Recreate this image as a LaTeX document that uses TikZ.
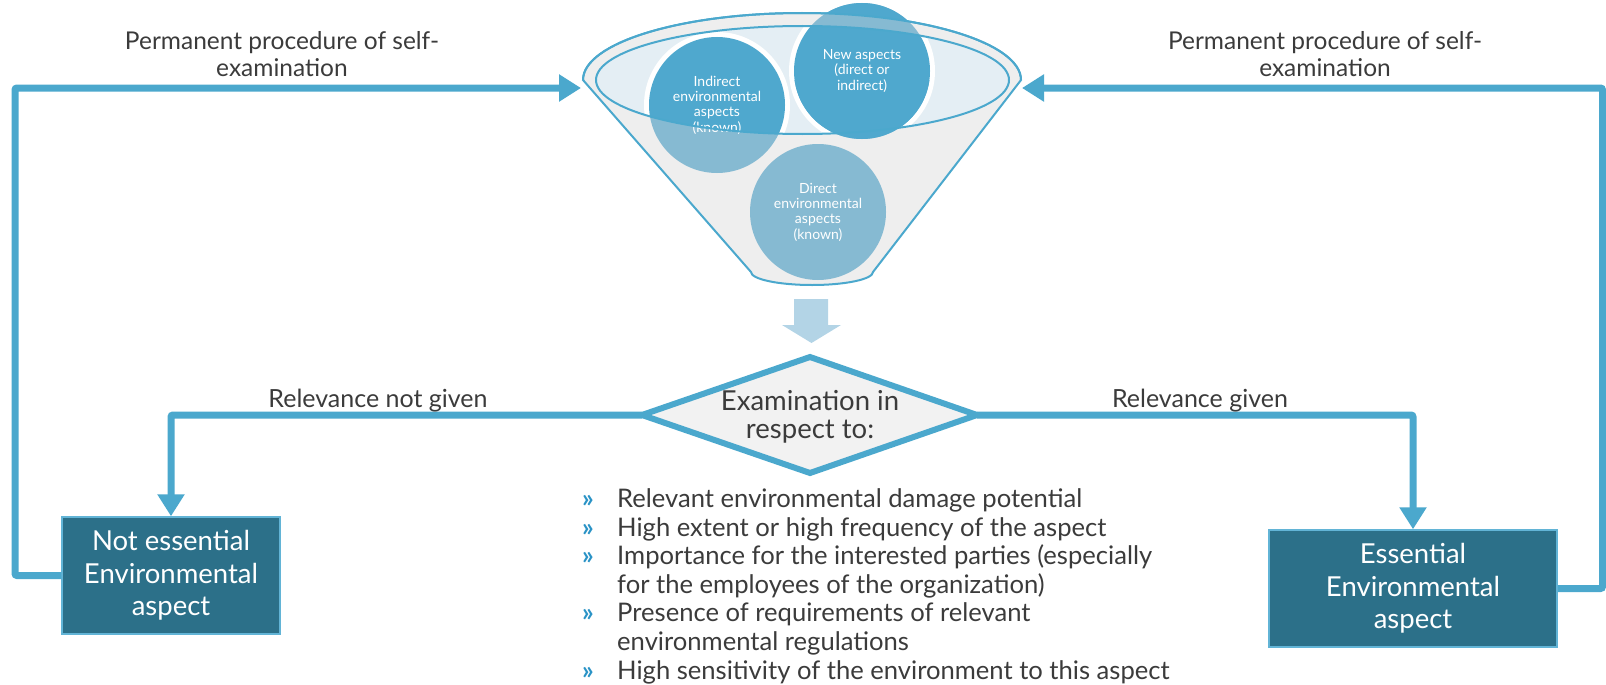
\documentclass[tikz,border=0pt]{standalone}
\usepackage{fontspec}
\setmainfont{Lato}
\usetikzlibrary{arrows.meta}

\definecolor{flowblue}{HTML}{4BA8CD}
\definecolor{circdark}{HTML}{4FA8CE}
\definecolor{circlight}{HTML}{86BAD2}
\definecolor{openfill}{HTML}{E4EEF4}
\definecolor{funnelgray}{HTML}{EEEEEE}
\definecolor{boxteal}{HTML}{2C7089}
\definecolor{boxedge}{HTML}{62B4D6}
\definecolor{diafill}{HTML}{F2F2F2}
\definecolor{txt}{HTML}{3B3B3B}
\definecolor{blockarrow}{HTML}{B3D4E6}
\definecolor{bulletblue}{HTML}{2A93C6}

\newcommand{\critbullet}{\makebox[35pt][l]{\textcolor{bulletblue}{\bfseries »}}}

\begin{document}
\begin{tikzpicture}[x=1pt,y=-1pt,
  flow/.style={draw=flowblue, line width=7pt, rounded corners=2pt,
    -{Triangle[length=22pt,width=26pt]}},
  toplbl/.style={text=txt, font=\fontsize{24.5}{27.5}\selectfont, align=center, inner sep=0pt},
  lbl/.style={text=txt, font=\fontsize{25}{28}\selectfont, inner sep=0pt},
  resultbox/.style={draw=boxedge, line width=1.5pt, fill=boxteal, text=white,
    font=\fontsize{27.5}{32.5}\selectfont, align=center, inner sep=0pt},
  aspectlbl/.style={circle, minimum size=136pt, inner sep=0pt, text=white,
    font=\fontsize{14}{15.3}\selectfont, align=center},
  decision/.style={draw=flowblue, line width=6pt, fill=diafill},
  decisionlbl/.style={text=txt, font=\fontsize{27.5}{28}\selectfont, align=center, inner sep=0pt},
  rim/.style={draw=flowblue, line width=2pt}
]
\useasboundingbox (0,0) rectangle (1606,685);

% ---------- funnel body ----------
\path[fill=funnelgray, rim]
  (583,80) arc[start angle=180, end angle=360, x radius=219, y radius=67]
  -- (873,272) arc[start angle=0, end angle=180, x radius=61, y radius=13]
  -- cycle;
\path[fill=openfill] (802.5,80) ellipse[x radius=206.5, y radius=54];

% aspect circles, pale where seen through the funnel wall
\fill[circlight] (717,105) circle[radius=68];
\fill[circlight] (862,71) circle[radius=68];
\fill[circlight] (818,212) circle[radius=68];

% seen through the opening: saturated, with white rims
\begin{scope}
  \clip (802.5,80) ellipse[x radius=206.5, y radius=54];
  \fill[white] (717,105) circle[radius=73];
  \fill[white] (862,71) circle[radius=73];
  \fill[circdark] (717,105) circle[radius=68];
  \fill[circdark] (862,71) circle[radius=68];
\end{scope}
% part of the new-aspects circle rising above the rim
\begin{scope}[even odd rule]
  \clip (560,-10) rectangle (1040,80) (802,80) ellipse[x radius=219, y radius=67];
  \fill[circdark] (862,71) circle[radius=68];
\end{scope}

\node[aspectlbl] (ind) at (717,105) {Indirect\\environmental\\aspects\\(known)};
\node[aspectlbl] (new) at (862,71) {New aspects\\(direct or\\indirect)};
\node[aspectlbl] (dir) at (818,212) {Direct\\environmental\\aspects\\(known)};

% rim outlines on top
\draw[rim] (583,80) arc[start angle=180, end angle=360, x radius=219, y radius=67];
\draw[rim] (802.5,80) ellipse[x radius=206.5, y radius=54];

\coordinate (fl) at (581,88);
\coordinate (fr) at (1022,88);

% ---------- block arrow down ----------
\fill[blockarrow] (794,299) -- (828,299) -- (828,325) -- (841,325) -- (811.5,343)
  -- (782,325) -- (794,325) -- cycle;

% ---------- decision ----------
\coordinate (examW) at (642,415);
\coordinate (examE) at (977,415);
\path[decision] (examW) -- (810,357) -- (examE) -- (810,473) -- cycle;
\node[decisionlbl] (exam) at (810,417) {Examination in\\respect to:};

% ---------- results ----------
\node[resultbox, minimum width=218pt, minimum height=117pt] (nb) at (171,575.5)
  {Not essential\\Environmental\\aspect};
\node[resultbox, minimum width=288pt, minimum height=117pt] (eb) at (1413,588.5)
  {Essential\\Environmental\\aspect};

% ---------- connectors ----------
\draw[flow] (examW) -| (nb.north);
\draw[flow] (examE) -| (eb.north);
\draw[flow] (nb.west) -| (15,88) -- (fl);
\draw[flow] (eb.east) -| (1602.5,88) -- (fr);

% ---------- labels (base = last line) ----------
\node[toplbl, anchor=base] (pl) at (282,77) {Permanent procedure of self-\\examination};
\node[toplbl, anchor=base] (pr) at (1325,77) {Permanent procedure of self-\\examination};
\node[lbl, anchor=base] (rn) at (378,407) {Relevance not given};
\node[lbl, anchor=base] (rg) at (1200,407) {Relevance given};

% ---------- criteria ----------
\node[text=txt, font=\fontsize{25.6}{28.6}\selectfont, align=left, inner sep=0pt,
  anchor=base west] (crit) at (582,679) {%
  \critbullet Relevant environmental damage potential\\
  \critbullet High extent or high frequency of the aspect\\
  \critbullet Importance for the interested parties (especially\\
  \hspace*{35pt}for the employees of the organization)\\
  \critbullet Presence of requirements of relevant\\
  \hspace*{35pt}environmental regulations\\
  \critbullet High sensitivity of the environment to this aspect};
\end{tikzpicture}
\end{document}
